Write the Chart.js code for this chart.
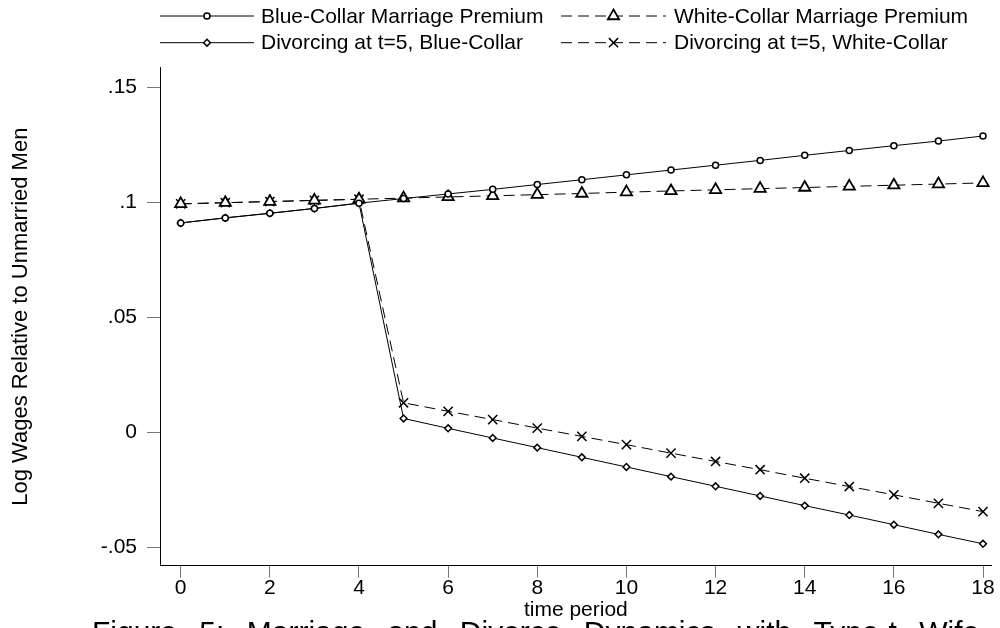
<!DOCTYPE html>
<html>
<head>
<meta charset="utf-8">
<script src="https://cdn.jsdelivr.net/npm/chart.js@4.4.1/dist/chart.umd.min.js"></script>
<style>
  html, body { margin: 0; padding: 0; background: #fff; }
  #wrap { width: 1000px; height: 628px; position: relative; }
</style>
</head>
<body>
<div id="wrap"><canvas id="c" width="1000" height="628"></canvas></div>
<script>
// Time periods on the horizontal axis
const periods = [0, 1, 2, 3, 4, 5, 6, 7, 8, 9, 10, 11, 12, 13, 14, 15, 16, 17, 18];

// Log wage premium of married men, by occupation
const blueMarried  = [0.0912, 0.0934, 0.0954, 0.0975, 0.0998, 0.1018, 0.1038, 0.1058, 0.1079, 0.1100,
                      0.1121, 0.1142, 0.1163, 0.1184, 0.1206, 0.1227, 0.1248, 0.1268, 0.1290];
const whiteMarried = [0.0995, 0.1000, 0.1005, 0.1010, 0.1015, 0.1020, 0.1025, 0.1030, 0.1035, 0.1040,
                      0.1046, 0.1051, 0.1056, 0.1061, 0.1066, 0.1071, 0.1076, 0.1081, 0.1086];

// Paths for men who divorce at t=5
const blueDivorced  = [0.0912, 0.0934, 0.0954, 0.0975, 0.0998, 0.0062, 0.0019, -0.0023, -0.0065, -0.0107,
                       -0.0149, -0.0191, -0.0233, -0.0275, -0.0317, -0.0358, -0.0400, -0.0442, -0.0483];
const whiteDivorced = [0.0995, 0.1000, 0.1005, 0.1010, 0.1015, 0.0130, 0.0093, 0.0057, 0.0020, -0.0016,
                       -0.0052, -0.0089, -0.0125, -0.0161, -0.0198, -0.0234, -0.0270, -0.0307, -0.0343];

const seriesNames = [
  'Blue-Collar Marriage Premium',
  'White-Collar Marriage Premium',
  'Divorcing at t=5, Blue-Collar',
  'Divorcing at t=5, White-Collar'
];

const yTickValues = [-0.05, 0, 0.05, 0.1, 0.15];
const yTickLabels = ['-.05', '0', '.05', '.1', '.15'];
const xTickValues = [0, 2, 4, 6, 8, 10, 12, 14, 16, 18];

const yTitle = 'Log Wages Relative to Unmarried Men';
const xTitle = 'time period';
const caption = 'Figure 5: Marriage and Divorce Dynamics with Type-t Wife';

const FONT = '"Liberation Sans", Arial, Helvetica, sans-serif';
const INK = '#000';
const DASH = [11, 6];

function points(values) {
  return periods.map((t, i) => ({ x: t, y: values[i] }));
}

const styles = [
  { pointStyle: 'circle',   radius: 3,   borderWidth: 1.5, dash: [] },
  { pointStyle: 'triangle', radius: 6.5, borderWidth: 1.8, dash: DASH },
  { pointStyle: 'rectRot',  radius: 3.4, borderWidth: 1.5, dash: [] },
  { pointStyle: 'crossRot', radius: 6.5, borderWidth: 1.5, dash: DASH }
];
const seriesValues = [blueMarried, whiteMarried, blueDivorced, whiteDivorced];

const datasets = seriesValues.map((vals, i) => ({
  label: seriesNames[i],
  data: points(vals),
  borderColor: INK,
  borderWidth: 1,
  borderDash: styles[i].dash,
  tension: 0,
  fill: false,
  pointStyle: styles[i].pointStyle,
  pointRadius: styles[i].radius,
  pointHoverRadius: styles[i].radius,
  pointBorderWidth: styles[i].borderWidth,
  pointBorderColor: INK,
  pointBackgroundColor: '#fff'
}));

// Pixel anchors of the axes: where x=0 / x=18 and y=.15 / y=-.05 fall
const X_ANCHOR = { v0: 0, p0: 180.7, v1: 18, p1: 983 };
const Y_ANCHOR = { v0: 0.15, p0: 87.7, v1: -0.05, p1: 547.7 };

// Legend, axis titles and caption drawn directly on the canvas
const annotations = {
  id: 'annotations',
  afterDraw(chart) {
    const ctx = chart.ctx;
    const area = chart.chartArea;
    ctx.save();

    // legend: two rows, two columns
    const cols = [
      { x0: 160, x1: 254, tx: 261 },
      { x0: 561, x1: 666, tx: 674 }
    ];
    const rows = [16, 42.7];
    for (let i = 0; i < 4; i++) {
      const c = cols[i % 2];
      const y = rows[Math.floor(i / 2)];
      const st = styles[i];
      ctx.strokeStyle = INK;
      ctx.lineWidth = 1;
      ctx.setLineDash(st.dash);
      ctx.beginPath();
      ctx.moveTo(c.x0, y);
      ctx.lineTo(c.x1, y);
      ctx.stroke();
      ctx.setLineDash([]);
      ctx.fillStyle = '#fff';
      ctx.lineWidth = st.borderWidth;
      Chart.helpers.drawPoint(ctx, {
        pointStyle: st.pointStyle,
        radius: st.radius,
        borderWidth: st.borderWidth,
        rotation: 0
      }, (c.x0 + c.x1) / 2, y);
      ctx.fillStyle = INK;
      ctx.font = '21px ' + FONT;
      ctx.textAlign = 'left';
      ctx.textBaseline = 'middle';
      ctx.fillText(seriesNames[i], c.tx, y + 1);
    }

    // y axis title
    ctx.fillStyle = INK;
    ctx.font = '22px ' + FONT;
    ctx.save();
    ctx.translate(21, (area.top + area.bottom) / 2);
    ctx.rotate(-Math.PI / 2);
    ctx.textAlign = 'center';
    ctx.textBaseline = 'middle';
    ctx.fillText(yTitle, 0, 0);
    ctx.restore();

    // x axis title
    ctx.font = '21px ' + FONT;
    ctx.textAlign = 'center';
    ctx.textBaseline = 'alphabetic';
    ctx.fillText(xTitle, (area.left + area.right) / 2, 616);

    // caption, running off the bottom edge
    ctx.font = '30px ' + FONT;
    ctx.textAlign = 'left';
    if ('wordSpacing' in ctx) ctx.wordSpacing = '14px';
    ctx.fillText(caption, 92, 642);

    ctx.restore();
  }
};

const chart = new Chart(document.getElementById('c'), {
  type: 'line',
  data: { datasets },
  plugins: [annotations],
  options: {
    responsive: false,
    animation: false,
    events: [],
    layout: { padding: { top: 67.7, right: 0, left: 0, bottom: 0 } },
    plugins: {
      legend: { display: false },
      title: { display: false },
      tooltip: { enabled: false }
    },
    scales: {
      x: {
        type: 'linear',
        min: -0.464,
        max: 18.38,
        afterBuildTicks(s) { s.ticks = xTickValues.map(v => ({ value: v })); },
        afterFit(s) { s.height = 62.3; s.paddingLeft = 0; s.paddingRight = 0; },
        border: { display: true, color: INK, width: 1 },
        grid: { display: true, drawOnChartArea: false, drawTicks: true, tickLength: 12, color: '#777', tickColor: '#777' },
        ticks: {
          color: INK,
          padding: 0,
          maxRotation: 0,
          autoSkip: false,
          font: { family: FONT, size: 21, lineHeight: 1 },
          callback: v => String(v)
        }
      },
      y: {
        type: 'linear',
        min: -0.0578,
        max: 0.1587,
        afterBuildTicks(s) { s.ticks = yTickValues.map(v => ({ value: v })); },
        afterFit(s) { s.width = 160; s.paddingTop = 0; s.paddingBottom = 0; },
        border: { display: true, color: INK, width: 1 },
        grid: { display: true, drawOnChartArea: false, drawTicks: true, tickLength: 13, color: '#777', tickColor: '#777' },
        ticks: {
          color: INK,
          padding: 10,
          autoSkip: false,
          font: { family: FONT, size: 21, lineHeight: 1 },
          callback: v => {
            const k = yTickValues.indexOf(v);
            return k >= 0 ? yTickLabels[k] : '';
          }
        }
      }
    }
  }
});

// Fit the axis ranges to the laid-out plot area so the anchor values land on their pixels
(function fitRanges() {
  const a = chart.chartArea;
  const ux = (X_ANCHOR.p1 - X_ANCHOR.p0) / (X_ANCHOR.v1 - X_ANCHOR.v0);
  const uy = (Y_ANCHOR.p1 - Y_ANCHOR.p0) / (Y_ANCHOR.v1 - Y_ANCHOR.v0);
  chart.options.scales.x.min = X_ANCHOR.v0 + (a.left - X_ANCHOR.p0) / ux;
  chart.options.scales.x.max = X_ANCHOR.v0 + (a.right - X_ANCHOR.p0) / ux;
  chart.options.scales.y.max = Y_ANCHOR.v0 + (a.top - Y_ANCHOR.p0) / uy;
  chart.options.scales.y.min = Y_ANCHOR.v0 + (a.bottom - Y_ANCHOR.p0) / uy;
  chart.update();
})();
</script>
</body>
</html>
